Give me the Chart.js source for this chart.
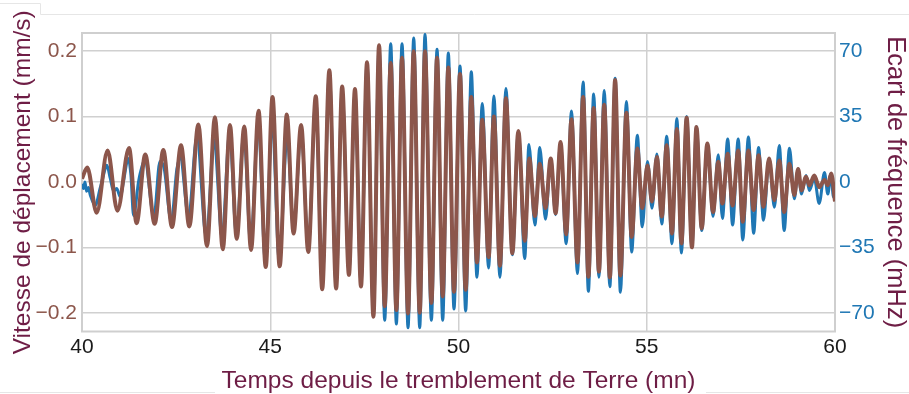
<!DOCTYPE html>
<html>
<head>
<meta charset="utf-8">
<script src="https://cdn.jsdelivr.net/npm/chart.js@4/dist/chart.umd.min.js"></script>
<style>
html,body{margin:0;padding:0;background:#fff;}
#wrap{width:909px;height:394px;position:relative;}
</style>
</head>
<body>
<div id="wrap"><canvas id="c" width="909" height="394"></canvas></div>
<script>
// ---- data ----
const xTickValues = [40, 45, 50, 55, 60];
const leftTickValues = [-0.2, -0.1, 0, 0.1, 0.2];
const leftTickLabels = ['\u22120.2', '\u22120.1', '0.0', '0.1', '0.2'];
const rightTickValues = [-70, -35, 0, 35, 70];
const rightTickLabels = ['\u221270', '\u221235', '0', '35', '70'];

// velocity (mm/s), brown series, left axis
const velTime = [40.00,40.14,40.39,40.68,40.94,41.25,41.45,41.68,41.93,42.16,42.39,42.63,42.85,43.09,43.32,43.53,43.74,43.93,44.11,44.31,44.49,44.69,44.88,45.06,45.25,45.44,45.62,45.82,46.01,46.21,46.38,46.57,46.75,46.91,47.09,47.25,47.41,47.57,47.74,47.89,48.04,48.20,48.35,48.50,48.66,48.81,48.97,49.11,49.28,49.43,49.58,49.73,49.88,50.04,50.19,50.34,50.49,50.63,50.80,50.94,51.10,51.26,51.43,51.59,51.76,51.88,52.03,52.16,52.31,52.45,52.58,52.71,52.86,53.00,53.16,53.31,53.45,53.59,53.73,53.87,54.02,54.16,54.30,54.46,54.60,54.75,54.88,55.02,55.14,55.27,55.40,55.53,55.67,55.80,55.92,56.06,56.20,56.32,56.46,56.61,56.76,56.90,57.01,57.15,57.28,57.43,57.55,57.70,57.84,57.97,58.10,58.25,58.39,58.52,58.65,58.79,58.92,59.02,59.11,59.23,59.32,59.45,59.58,59.72,59.81,59.90,60.00];
const velValue = [0.005,0.022,-0.047,0.048,-0.044,0.052,-0.063,0.042,-0.064,0.049,-0.069,0.056,-0.068,0.088,-0.098,0.099,-0.103,0.087,-0.087,0.085,-0.104,0.109,-0.130,0.130,-0.129,0.103,-0.079,0.087,-0.107,0.131,-0.164,0.171,-0.163,0.146,-0.142,0.142,-0.160,0.183,-0.206,0.209,-0.190,0.182,-0.196,0.190,-0.201,0.200,-0.200,0.200,-0.185,0.190,-0.175,0.175,-0.168,0.165,-0.165,0.130,-0.123,0.095,-0.115,0.100,-0.128,0.128,-0.109,0.078,-0.090,0.036,-0.052,0.028,-0.040,0.036,-0.048,0.061,-0.080,0.096,-0.123,0.130,-0.145,0.113,-0.137,0.118,-0.146,0.156,-0.143,0.106,-0.084,0.051,-0.040,0.025,-0.030,0.038,-0.053,0.056,-0.079,0.081,-0.094,0.098,-0.100,0.084,-0.071,0.059,-0.046,0.031,-0.033,0.043,-0.036,0.048,-0.061,0.048,-0.043,0.041,-0.038,0.036,-0.028,0.033,-0.046,0.028,-0.020,0.020,-0.013,0.008,-0.005,0.010,-0.008,0.003,-0.005,0.013,-0.030];

// frequency deviation (mHz), blue series, right axis
const freqTime = [40.00,40.04,40.08,40.12,40.17,40.22,40.35,40.48,40.55,40.66,40.75,40.84,40.92,41.02,41.10,41.23,41.30,41.37,41.50,41.55,41.67,41.91,42.07,42.18,42.37,42.52,42.61,42.83,43.05,43.30,43.51,43.72,43.92,44.10,44.30,44.48,44.68,44.87,45.05,45.24,45.45,45.62,45.82,46.01,46.21,46.38,46.57,46.75,46.91,47.09,47.25,47.41,47.57,47.74,47.89,48.04,48.20,48.35,48.50,48.66,48.81,48.97,49.11,49.28,49.43,49.58,49.73,49.88,50.04,50.19,50.34,50.49,50.63,50.80,50.94,51.10,51.26,51.43,51.59,51.76,51.87,52.03,52.16,52.31,52.45,52.58,52.71,52.86,53.00,53.16,53.31,53.45,53.59,53.73,53.87,54.02,54.16,54.30,54.46,54.60,54.75,54.88,55.02,55.14,55.27,55.40,55.53,55.67,55.80,55.92,56.06,56.20,56.32,56.46,56.61,56.76,56.90,57.01,57.15,57.28,57.43,57.55,57.70,57.84,57.97,58.10,58.25,58.39,58.52,58.65,58.79,58.92,59.02,59.11,59.23,59.32,59.45,59.58,59.72,59.81,59.89,59.96,60.00];
const freqValue = [-1,-3.5,0,-5,-3,-7,-12.5,-3.5,2,9,2,-5,-3.5,-8,0,12.5,3.5,-18,0,5,11.5,-18.5,11,7.5,-21,7,13,-18.5,24,-29.5,22.5,-29.5,26,-28,26,-33,31,-42,33,-42,24,-26,28,-35,44,-54,58,-55,49,-48,48,-54,63,-70,72,-74,74,-76,74,-78,77,-78,79,-74,71,-74,69,-68,62,-69,59,-51,42,-46,46,-51,50,-39,27,-41,20,-23,18.5,-20,12.5,-17.5,21,-33,38,-49,53.5,-58.5,47,-51,49,-56,55.5,-59,43,-37.5,25,-24,11,-14,15,-22.5,24.5,-33,34,-38,35,-35,29.5,-26,20.5,-18.5,14.5,-19.5,23,-23,23,-31,24,-27.5,18.5,-20.5,12.5,-13.5,19.5,-26,18,-9,7,-6.5,3.5,-4.5,2,-11.5,5,-6.5,4.5,-8,-2];

// ---- styles ----
const BROWN = '#8c564b';
const BLUE = '#1f77b4';
const TITLE = '#6e1d45';
const GRID = '#d0d0d0';
const FONT = "'Liberation Sans', Arial, sans-serif";

const velPts = velTime.map((t, i) => ({x: t, y: velValue[i]}));
const freqPts = freqTime.map((t, i) => ({x: t, y: freqValue[i]}));

const framePlugin = {
  id: 'frame',
  beforeDatasetsDraw(chart) {
    const {ctx, chartArea: a} = chart;
    ctx.save();
    ctx.strokeStyle = '#cfcfcf';
    ctx.lineWidth = 2;
    ctx.strokeRect(a.left, a.top, a.right - a.left, a.bottom - a.top);
    ctx.restore();
  },
  beforeDraw(chart) {
    const {ctx} = chart;
    ctx.save();
    ctx.strokeStyle = '#e6e6e6';
    ctx.lineWidth = 1;
    ctx.beginPath();
    ctx.moveTo(0, 3.5); ctx.lineTo(40.5, 3.5); ctx.lineTo(40.5, 14.5); ctx.lineTo(909, 14.5);
    ctx.moveTo(0, 392.5); ctx.lineTo(215, 392.5);
    ctx.moveTo(706, 392.5); ctx.lineTo(909, 392.5);
    ctx.stroke();
    ctx.restore();
  }
};

new Chart(document.getElementById('c'), {
  type: 'line',
  data: {
    datasets: [
      {
        label: 'Vitesse',
        data: velPts,
        yAxisID: 'yL',
        borderColor: BROWN,
        borderWidth: 4,
        pointRadius: 0,
        cubicInterpolationMode: 'monotone',
        order: 0
      },
      {
        label: 'Ecart',
        data: freqPts,
        yAxisID: 'yR',
        borderColor: BLUE,
        borderWidth: 3,
        pointRadius: 0,
        cubicInterpolationMode: 'monotone',
        order: 1
      }
    ]
  },
  options: {
    responsive: false,
    animation: false,
    devicePixelRatio: 1,
    layout: {padding: {top: 33, left: 0, right: 0, bottom: 0}},
    plugins: {legend: {display: false}, tooltip: {enabled: false}},
    scales: {
      x: {
        type: 'linear',
        min: 40, max: 60,
        afterBuildTicks: s => { s.ticks = xTickValues.map(v => ({value: v})); },
        afterFit: s => { s.height = 62.5; },
        grid: {color: GRID, lineWidth: 1.5, drawTicks: false},
        border: {display: false},
        ticks: {color: '#1a1a1a', font: {family: FONT, size: 21}, padding: 3, maxRotation: 0,
                callback: v => String(v)},
        title: {display: true, text: 'Temps depuis le tremblement de Terre (mn)', color: TITLE,
                font: {family: FONT, size: 24.5, lineHeight: 1}, padding: {top: 0, bottom: 0.5}}
      },
      yL: {
        position: 'left',
        min: -0.2287, max: 0.2278,
        afterBuildTicks: s => { s.ticks = leftTickValues.map(v => ({value: v})); },
        afterFit: s => { s.width = 82; },
        grid: {color: GRID, lineWidth: 1.5, drawTicks: false},
        border: {display: false},
        ticks: {color: BROWN, font: {family: FONT, size: 21}, padding: 5,
                callback: (v) => leftTickLabels[leftTickValues.findIndex(t => Math.abs(t - v) < 1e-9)]},
        title: {display: true, text: 'Vitesse de déplacement (mm/s)', color: TITLE,
                font: {family: FONT, size: 24.5, lineHeight: 1}, padding: {top: 10.5, bottom: 0}}
      },
      yR: {
        position: 'right',
        min: -80.0, max: 79.7,
        afterBuildTicks: s => { s.ticks = rightTickValues.map(v => ({value: v})); },
        afterFit: s => { s.width = 74; },
        grid: {display: false, drawTicks: false},
        border: {display: false},
        ticks: {color: BLUE, font: {family: FONT, size: 21}, padding: 4,
                callback: (v) => rightTickLabels[rightTickValues.findIndex(t => Math.abs(t - v) < 1e-9)]},
        title: {display: true, text: 'Ecart de fréquence (mHz)', color: TITLE,
                font: {family: FONT, size: 25.5, lineHeight: 1}, padding: {top: 1, bottom: 0}}
      }
    }
  },
  plugins: [framePlugin]
});
</script>
</body>
</html>
